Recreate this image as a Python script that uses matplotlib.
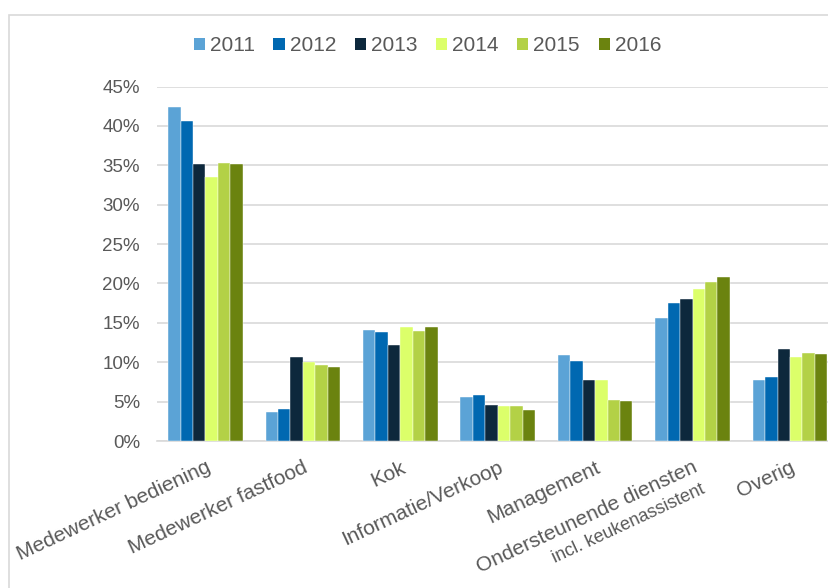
import numpy as np
import matplotlib as mpl
mpl.use('Agg')
import matplotlib.pyplot as plt
from matplotlib.patches import Rectangle, Patch
import matplotlib.transforms as mtransforms

plt.rcParams['font.family'] = ['Liberation Sans', 'DejaVu Sans']

categories = ['Medewerker bediening', 'Medewerker fastfood', 'Kok', 'Informatie/Verkoop',
              'Management', 'Ondersteunende diensten', 'Overig']
sub_label = 'incl. keukenassistent'  # second, smaller line under category 6
years = ['2011', '2012', '2013', '2014', '2015', '2016']

# percentages per year, one value per category
v2011 = [42.4, 3.7, 14.1, 5.6, 10.9, 15.6, 7.7]
v2012 = [40.6, 4.0, 13.8, 5.8, 10.2, 17.5, 8.1]
v2013 = [35.1, 10.6, 12.2, 4.6, 7.7, 18.0, 11.7]
v2014 = [33.5, 10.0, 14.5, 4.5, 7.7, 19.3, 10.6]
v2015 = [35.3, 9.7, 13.9, 4.5, 5.2, 20.2, 11.2]
v2016 = [35.1, 9.4, 14.5, 3.9, 5.1, 20.8, 11.1]
series = [v2011, v2012, v2013, v2014, v2015, v2016]

colors = ['#5ba3d6', '#0068b1', '#0d283c', '#dcff6a', '#b3d146', '#6b830f']
txt = '#595959'
grid = '#d9d9d9'

W, H = 829, 588
fig = plt.figure(figsize=(W / 100, H / 100), dpi=100)
ax = fig.add_axes([156.7 / W, 147 / H, 1 - 156.7 / W, (441 - 86.5) / H])

x = np.arange(len(categories))
bw = 0.766 / len(series)
for i, (vals, c) in enumerate(zip(series, colors)):
    ax.bar(x + (i - 2.5) * bw, vals, width=bw, color=c, edgecolor='white',
           linewidth=0.3, zorder=3)

ax.set_xlim(-0.5, 6.4)
ax.set_ylim(0, 45)
ax.set_yticks(np.arange(0, 46, 5))
ax.set_yticklabels([f'{t}%' for t in range(0, 46, 5)])
ax.yaxis.grid(True, color=grid, linewidth=1.2, zorder=0)
ax.set_axisbelow(True)
for s in ['top', 'right', 'left']:
    ax.spines[s].set_visible(False)
ax.spines['bottom'].set_color(grid)
ax.spines['bottom'].set_linewidth(1.2)
ax.tick_params(axis='y', length=0, pad=12, labelsize=13.5, labelcolor=txt)
ax.tick_params(axis='x', length=0, pad=12, labelsize=15, labelcolor=txt)

ax.set_xticks(x)
ax.set_xticklabels(categories, rotation=25, ha='right', va='top', rotation_mode='anchor')

# smaller second line for the 'Ondersteunende diensten' label
off = mtransforms.ScaledTranslation(8 / 100, -(17 + 23) / 100, fig.dpi_scale_trans)
ax.text(x[5], 0, sub_label, transform=ax.get_xaxis_transform() + off,
        rotation=25, ha='right', va='top', rotation_mode='anchor', fontsize=13, color=txt)

handles = [Patch(facecolor=c, label=y) for c, y in zip(colors, years)]
fig.legend(handles=handles, loc='center', bbox_to_anchor=(427.5 / W, 1 - 45.7 / H),
           ncol=6, frameon=False, fontsize=15, labelcolor=txt,
           handlelength=0.53, handleheight=0.53, handletextpad=0.25, columnspacing=0.89)

# chart area border (cut off at right and bottom)
fig.patches.append(Rectangle((9.5 / W, -0.1), 2, 1 - 15.5 / H + 0.1, transform=fig.transFigure,
                             fill=False, edgecolor=grid, linewidth=1.2))

fig.savefig('out.png', dpi=100)
